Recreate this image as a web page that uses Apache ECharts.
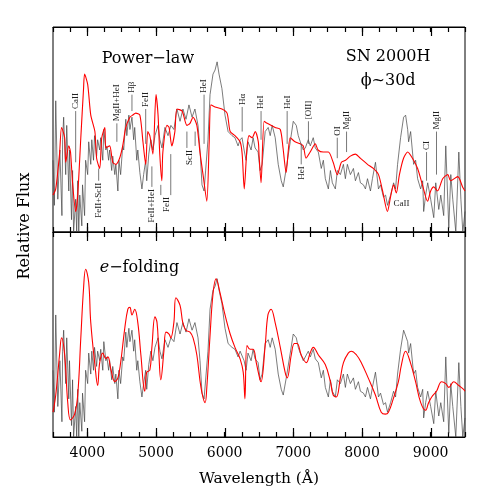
<!DOCTYPE html>
<html>
<head>
<meta charset="utf-8">
<script src="https://cdn.jsdelivr.net/npm/echarts@6/dist/echarts.min.js"></script>
<style>
  html,body{margin:0;padding:0;background:#fff;}
  #main{width:491px;height:491px;}
</style>
</head>
<body>
<div id="main"></div>
<script>
// observed spectrum of SN 2000H (same data in both panels)
var observed = [[3500,.35],[3520,.13],[3540,.64],[3570,.16],[3600,.40],[3630,.08],[3640,.45],[3655,.56],[3685,.28],[3700,.52],[3730,.20],[3740,.40],[3770,.06],[3785,.30],[3800,0],[3830,.16],[3845,0],[3860,.25],[3875,0],[3890,.18],[3920,.03],[3930,.23],[3960,.08],[3975,.35],[4005,.28],[4020,.44],[4050,.33],[4065,.45],[4090,.35],[4105,.47],[4135,.37],[4150,.45],[4180,.40],[4195,.46],[4225,.35],[4240,.50],[4270,.40],[4285,.42],[4310,.35],[4325,.40],[4355,.30],[4370,.37],[4400,.28],[4415,.33],[4445,.20],[4460,.35],[4485,.28],[4515,.42],[4530,.40],[4560,.55],[4575,.47],[4605,.57],[4620,.50],[4650,.56],[4675,.45],[4690,.51],[4720,.35],[4735,.40],[4765,.29],[4795,.21],[4820,.28],[4850,.35],[4865,.25],[4895,.38],[4925,.45],[4955,.40],[4985,.47],
  [5030,.52],[5057,.45],[5087,.41],[5130,.51],[5175,.47],[5217,.52],[5261,.50],[5305,.60],[5350,.54],[5392,.60],[5437,.55],[5480,.62],[5525,.56],[5567,.60],[5612,.52],[5641,.40],[5670,.23],[5700,.20],[5728,.20],[5757,.45],[5787,.67],[5830,.77],[5860,.79],[5890,.83],[5918,.77],[5960,.70],[6005,.57],[6050,.49],[6107,.47],[6150,.46],[6195,.42],[6225,.45],[6253,.46],[6283,.40],[6312,.35],[6340,.44],[6385,.40],[6414,.46],[6443,.41],[6487,.39],[6516,.30],[6546,.33],[6590,.49],[6634,.51],[6663,.47],[6692,.52],[6736,.46],[6780,.33],[6824,.25],[6853,.22],[6897,.31],[6955,.44],[6999,.54],[7043,.52],[7072,.47],[7101,.44],[7145,.40],[7174,.41],[7218,.45],[7247,.42],[7290,.46],[7320,.41],[7364,.39],[7407,.31],[7437,.35],[7466,.26],[7510,.21],[7540,.30],[7568,.24],[7612,.21],[7641,.30],[7685,.28],[7729,.33],[7758,.26],[7787,.33],[7831,.28],[7875,.31],[7904,.25],[7948,.29],[7977,.24],[8021,.23],[8050,.21],[8080,.26],[8123,.20],[8152,.26],[8196,.34],[8240,.21],[8270,.23],[8313,.17],[8343,.18],[8372,.13],[8416,.18],[8460,.24],[8489,.21],[8518,.33],[8562,.46],[8606,.56],[8635,.57],[8665,.50],[8679,.44],[8708,.49],[8752,.33],[8781,.35],[8810,.26],[8854,.21],[8884,.25],[8898,.10],[8927,.18],[8957,.24],[9000,.16],[9045,.07],[9074,.24],[9118,.11],[9147,.18],[9190,.08],[9220,.42],[9264,.02],[9293,.28],[9322,.16],[9366,0],[9410,.39],[9440,.16],[9468,0],[9500,.10]];

// synthetic spectrum, power-law density profile
var powerLaw = [[3500,.18],[3540,.21],[3595,.38],[3625,.51],[3670,.46],[3685,.34],[3730,.42],[3755,.39],[3785,.24],[3830,.10],[3860,.18],[3905,.46],[3945,.70],[3960,.77],[4005,.72],[4050,.57],[4110,.49],[4135,.36],[4180,.31],[4210,.46],[4255,.51],[4270,.41],[4325,.42],[4370,.34],[4415,.33],[4470,.36],[4515,.42],[4560,.51],[4620,.56],[4660,.57],[4705,.58],[4765,.57],[4810,.44],[4850,.33],[4880,.49],[4910,.47],[4955,.38],[5000,.67],[5030,.57],[5055,.38],[5085,.25],[5100,.39],[5160,.52],[5190,.51],[5230,.42],[5275,.49],[5305,.60],[5380,.59],[5450,.52],[5495,.53],[5540,.56],[5595,.52],[5640,.39],[5685,.28],[5740,.15],[5775,.44],[5800,.62],[5860,.61],[5960,.60],[6035,.58],[6080,.49],[6150,.47],[6225,.44],[6255,.38],[6285,.21],[6325,.41],[6355,.47],[6400,.46],[6445,.49],[6490,.44],[6500,.38],[6530,.24],[6575,.54],[6620,.53],[6735,.51],[6810,.50],[6850,.41],[6895,.29],[6955,.46],[7025,.44],[7100,.43],[7145,.42],[7185,.36],[7245,.39],[7320,.43],[7360,.40],[7435,.39],[7510,.39],[7580,.34],[7640,.28],[7700,.34],[7760,.35],[7830,.37],[7905,.38],[7975,.36],[8080,.33],[8165,.31],[8240,.28],[8300,.20],[8370,.10],[8415,.17],[8460,.23],[8500,.19],[8545,.28],[8605,.36],[8665,.39],[8735,.36],[8810,.31],[8880,.23],[8955,.15],[9000,.20],[9045,.22],[9100,.20],[9175,.26],[9250,.28],[9290,.25],[9395,.27],[9465,.22],[9500,.20]];

// synthetic spectrum, e-folding density profile
var eFolding = [[3500,.13],[3540,.22],[3595,.43],[3625,.52],[3670,.43],[3715,.18],[3755,.09],[3815,.12],[3860,.22],[3905,.52],[3945,.78],[3975,.88],[4020,.81],[4050,.60],[4110,.38],[4150,.27],[4180,.39],[4225,.44],[4270,.41],[4300,.42],[4340,.36],[4400,.29],[4445,.31],[4485,.39],[4545,.57],[4590,.67],[4620,.68],[4650,.64],[4690,.67],[4735,.60],[4780,.43],[4835,.24],[4865,.34],[4910,.35],[4940,.47],[4985,.63],[5015,.60],[5040,.45],[5070,.30],[5115,.45],[5145,.55],[5190,.54],[5215,.52],[5260,.60],[5290,.73],[5350,.69],[5390,.60],[5435,.56],[5495,.55],[5540,.52],[5595,.43],[5655,.26],[5715,.18],[5740,.26],[5785,.52],[5830,.75],[5875,.83],[5930,.76],[6005,.64],[6080,.54],[6150,.47],[6225,.41],[6270,.34],[6295,.20],[6325,.48],[6370,.46],[6415,.46],[6460,.39],[6515,.30],[6530,.29],[6590,.48],[6630,.64],[6675,.67],[6735,.60],[6810,.47],[6880,.34],[6910,.31],[6970,.43],[7015,.49],[7055,.49],[7115,.43],[7190,.39],[7245,.44],[7290,.47],[7365,.43],[7465,.38],[7540,.29],[7580,.22],[7625,.21],[7685,.31],[7730,.39],[7800,.44],[7845,.45],[7920,.43],[7990,.39],[8090,.31],[8195,.22],[8280,.13],[8340,.12],[8385,.13],[8455,.20],[8530,.29],[8575,.38],[8635,.45],[8705,.39],[8780,.29],[8855,.18],[8925,.14],[8970,.18],[9015,.21],[9085,.24],[9160,.29],[9220,.28],[9265,.26],[9335,.29],[9410,.27],[9480,.25],[9500,.24]];

var majorTicks = [4000,5000,6000,7000,8000,9000];

// line identifications in the top panel: wavelength, flux range of the marker
var lineIds = [
  {t:'CaII', wl:3830, f:[.34,.59], up:true},
  {t:'MgII+HeI', wl:4430, f:[.44,.53], up:true},
  {t:'Hβ', wl:4650, f:[.59,.67], up:true},
  {t:'FeII', wl:4850, f:[.43,.60], up:true},
  {t:'HeI', wl:5700, f:[.43,.67], up:true},
  {t:'Hα', wl:6255, f:[.49,.61], up:true},
  {t:'HeI', wl:6530, f:[.45,.59], up:true},
  {t:'HeI', wl:6910, f:[.43,.59], up:true},
  {t:'[OII]', wl:7220, f:[.43,.54], up:true},
  {t:'OI', wl:7640, f:[.36,.46], up:true},
  {t:'MgII', wl:7775, f:[.39,.49], up:true},
  {t:'CI', wl:8940, f:[.25,.39], up:true},
  {t:'MgII', wl:9085, f:[.28,.49], up:true},
  {t:'FeII+ScII', wl:4165, f:[.31,.25], up:false},
  {t:'FeII+HeI', wl:4940, f:[.32,.22], up:false},
  {t:'FeII', wl:5150, f:[.22,.18], up:false, extra:[[5070,.23,.18],[5215,.38,.18]]},
  {t:'ScII', wl:5490, f:[.43,.41], up:false, extra:[[5450,.49,.41],[5570,.49,.42]]},
  {t:'HeI', wl:7115, f:[.43,.33], up:false}
];

var serif = "'DejaVu Serif', serif";
var idFont = "9px 'Liberation Serif', serif";

var chart = echarts.init(document.getElementById('main'));

// minor ticks every 250 A on top and bottom of each panel; labels only at 1000s
function xAxes(k){
  var arr = [];
  ['bottom','top'].forEach(function(pos){
    var lab = (k === 1 && pos === 'bottom');
    arr.push({gridIndex:k, type:'value', min:3500, max:9500, interval:250, position:pos,
      axisLine:{show:true, onZero:false, lineStyle:{color:'#000', width:1}},
      splitLine:{show:false},
      axisTick:{show:true, inside:true, length:5, lineStyle:{color:'#000', width:1.2}},
      axisLabel:{show:lab, color:'#000', fontSize:14, fontFamily:serif, margin:9,
        formatter:function(v){ return majorTicks.indexOf(v) >= 0 ? String(v) : ''; }},
      name: lab ? 'Wavelength (Å)' : '',
      nameLocation:'middle', nameGap:34, nameTextStyle:{color:'#000', fontSize:15.5, fontFamily:serif}
    });
  });
  return arr;
}

var option = {
  animation:false,
  grid:[
    {left:53, right:26, top:27, height:205, show:true, borderColor:'#000', borderWidth:1},
    {left:53, right:26, top:232, height:205, show:true, borderColor:'#000', borderWidth:1}
  ],
  xAxis: xAxes(0).concat(xAxes(1)),
  yAxis:[
    {gridIndex:0, type:'value', min:0, max:1, show:false},
    {gridIndex:1, type:'value', min:0, max:1.075, show:false}
  ],
  series:[
    {type:'line', xAxisIndex:0, yAxisIndex:0, data:observed, symbol:'none',
      lineStyle:{color:'#444', width:0.7}, z:2},
    {type:'line', xAxisIndex:0, yAxisIndex:0, data:powerLaw, symbol:'none', smooth:0.25,
      lineStyle:{color:'#ff0000', width:1.1}, z:3},
    {type:'line', xAxisIndex:2, yAxisIndex:1, data:observed, symbol:'none',
      lineStyle:{color:'#444', width:0.7}, z:2},
    {type:'line', xAxisIndex:2, yAxisIndex:1, data:eFolding, symbol:'none', smooth:0.4,
      lineStyle:{color:'#ff0000', width:1.1}, z:3}
  ]
};
chart.setOption(option);

function px(panel, wl, f){
  return chart.convertToPixel(panel === 0 ? {xAxisIndex:0, yAxisIndex:0} : {xAxisIndex:2, yAxisIndex:1}, [wl, f]);
}
var g = [];

// longer major ticks at every 1000 A, top and bottom of each panel
[0, 1].forEach(function(p){
  var top = px(p, 3500, p === 0 ? 1 : 1.075)[1], bot = px(p, 3500, 0)[1];
  majorTicks.forEach(function(v){
    var x = Math.round(px(p, v, 0)[0]) + 0.5;
    g.push({type:'line', shape:{x1:x, y1:bot, x2:x, y2:bot - 9}, style:{stroke:'#000', lineWidth:1.2}, z:7});
    g.push({type:'line', shape:{x1:x, y1:top, x2:x, y2:top + 9}, style:{stroke:'#000', lineWidth:1.2}, z:7});
  });
});

function vline(wl, f1, f2){
  var a = px(0, wl, f1), b = px(0, wl, f2);
  g.push({type:'line', shape:{x1:a[0], y1:a[1], x2:b[0], y2:b[1]}, style:{stroke:'#555', lineWidth:0.8}, z:5});
}
lineIds.forEach(function(d){
  if (d.extra) {
    d.extra.forEach(function(e){ vline(e[0], e[1], e[2]); });
  } else {
    vline(d.wl, d.f[0], d.f[1]);
  }
  var end = px(0, d.wl, d.f[1]);
  g.push({type:'text', x:end[0], y:end[1] + (d.up ? -2 : 2), rotation:Math.PI/2,
    style:{text:d.t, font:idFont, fill:'#222', align:d.up ? 'left' : 'right', verticalAlign:'middle'}, z:6});
});
var ca = px(0, 8575, .14);
g.push({type:'text', x:ca[0], y:ca[1], style:{text:'CaII', font:idFont, fill:'#222', align:'center', verticalAlign:'middle'}, z:6});

var t1 = px(0, 4210, .845);
g.push({type:'text', x:t1[0], y:t1[1], style:{text:'Power−law', font:'16px ' + serif, fill:'#000', align:'left', verticalAlign:'middle'}});
var t2 = px(0, 8380, .855);
g.push({type:'text', x:t2[0], y:t2[1], style:{text:'SN 2000H', font:'16px ' + serif, fill:'#000', align:'center', verticalAlign:'middle'}});
var t3 = px(0, 8380, .735);
g.push({type:'text', x:t3[0], y:t3[1], style:{text:'ϕ~30d', font:'16px ' + serif, fill:'#000', align:'center', verticalAlign:'middle'}});
var t4 = px(1, 4180, .887);
g.push({type:'text', x:t4[0], y:t4[1], style:{
  text:'{i|e}−folding', font:'16px ' + serif, fill:'#000', align:'left', verticalAlign:'middle',
  rich:{i:{fontStyle:'italic', fontSize:16, fontFamily:serif}}}});
g.push({type:'text', x:25, y:226, rotation:Math.PI/2,
  style:{text:'Relative Flux', font:'16px ' + serif, fill:'#000', align:'center', verticalAlign:'middle'}});

chart.setOption({graphic:g});
</script>
</body>
</html>
